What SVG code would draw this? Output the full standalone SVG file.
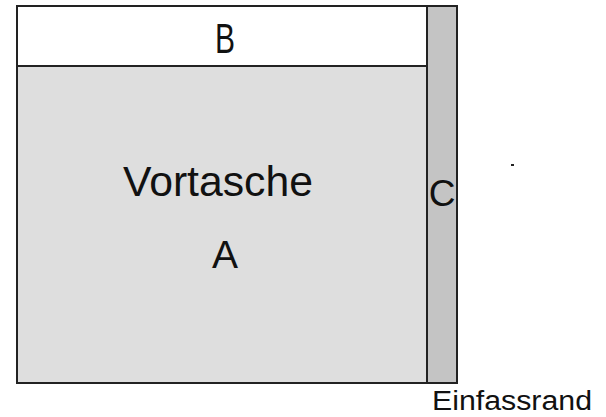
<svg xmlns="http://www.w3.org/2000/svg" width="606" height="417" viewBox="0 0 606 417">
<style>
.ln{stroke:#222;stroke-width:2;}
.t{font-family:"Liberation Sans",Arial,sans-serif;fill:#111;}
</style>
<rect width="606" height="417" fill="#fff"/>
<g id="A">
<rect class="ln" x="17" y="66" width="410" height="317" fill="#dedede"/>
<text class="t" x="218" y="196" font-size="42" text-anchor="middle" textLength="190" lengthAdjust="spacingAndGlyphs">Vortasche</text>
<text class="t" x="225" y="268" font-size="39" text-anchor="middle">A</text>
</g>
<g id="B">
<rect class="ln" x="17" y="6" width="410" height="60" fill="#fff"/>
<text class="t" x="225" y="53" font-size="42" text-anchor="middle" textLength="20" lengthAdjust="spacingAndGlyphs">B</text>
</g>
<g id="C">
<rect class="ln" x="427" y="6" width="30" height="377" fill="#c4c4c4"/>
<text class="t" x="442" y="206" font-size="37" text-anchor="middle">C</text>
</g>
<g id="label">
<text class="t" x="432" y="410" font-size="27" textLength="160" lengthAdjust="spacingAndGlyphs">Einfassrand</text>
</g>
<rect x="511" y="164" width="3" height="2" fill="#222"/>
</svg>
